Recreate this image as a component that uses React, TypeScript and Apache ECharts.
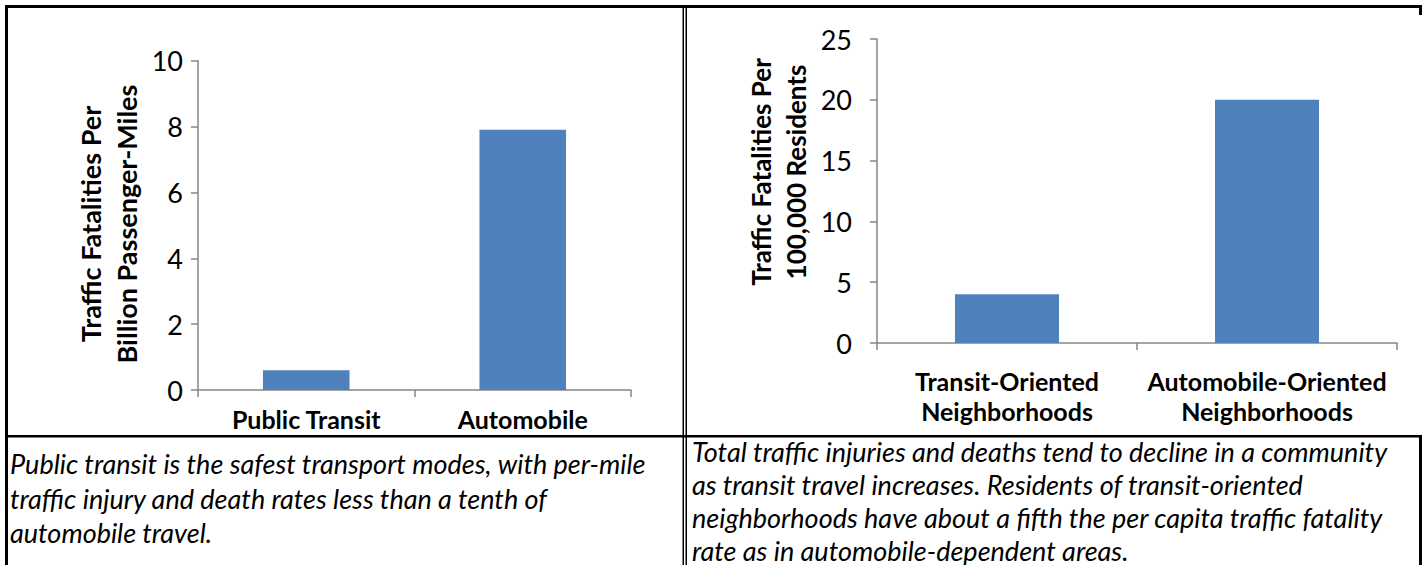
import React, { useEffect, useRef } from "react";
import * as echarts from "echarts";

const leftCategories = ["Public Transit", "Automobile"];
const leftValues = [0.6, 7.9];
const leftAxisTitle = ["Traffic Fatalities Per", "Billion Passenger-Miles"];
const leftYMax = 10;
const leftYInterval = 2;

const rightCategories = ["Transit-Oriented\nNeighborhoods", "Automobile-Oriented\nNeighborhoods"];
const rightValues = [4, 20];
const rightAxisTitle = ["Traffic Fatalities Per", "100,000 Residents"];
const rightYMax = 25;
const rightYInterval = 5;

const leftCaption = [
  "Public transit is the safest transport modes, with per-mile",
  "traffic injury and death rates less than a tenth of",
  "automobile travel.",
];
const rightCaption = [
  "Total traffic injuries and deaths tend to decline in a community",
  "as transit travel increases. Residents of transit-oriented",
  "neighborhoods have about a fifth the per capita traffic fatality",
  "rate as in automobile-dependent areas.",
];

const FONT = "Lato, 'Open Sans', sans-serif";
const AXIS_GRAY = "#868686";
const BAR_BLUE = "#4F81BD";

export default function App() {
  const ref = useRef<HTMLDivElement>(null);
  useEffect(() => {
    if (!ref.current) return;
    const chart = echarts.init(ref.current, undefined, { renderer: "svg" });

    const black = { fill: "#000" };
    const borders: any[] = [
      { type: "rect", shape: { x: 5, y: 5, width: 1417, height: 3 }, style: black },
      { type: "rect", shape: { x: 5, y: 5, width: 3, height: 560 }, style: black },
      { type: "rect", shape: { x: 1419, y: 5, width: 3, height: 10 }, style: black },
      { type: "rect", shape: { x: 5, y: 435, width: 1417, height: 2.5 }, style: black },
      { type: "rect", shape: { x: 682.5, y: 8, width: 1.5, height: 557 }, style: black },
      { type: "rect", shape: { x: 685.5, y: 8, width: 1.5, height: 557 }, style: black },
      { type: "rect", shape: { x: 1419, y: 435, width: 3, height: 130 }, style: black },
    ];

    const captionStyle = {
      fill: "#000",
      fontFamily: FONT,
      fontStyle: "italic",
      fontSize: 27,
    };
    const leftCaptionY = [463, 498, 532];
    const rightCaptionY = [451, 484, 517, 550];
    const captions: any[] = [
      ...leftCaption.map((t, i) => ({
        type: "text",
        x: 10,
        y: leftCaptionY[i],
        style: { ...captionStyle, text: t, textAlign: "left", textVerticalAlign: "middle" },
      })),
      ...rightCaption.map((t, i) => ({
        type: "text",
        x: 692,
        y: rightCaptionY[i],
        style: { ...captionStyle, text: t, textAlign: "left", textVerticalAlign: "middle" },
      })),
    ];

    const titleStyle = {
      fill: "#000",
      fontFamily: FONT,
      fontWeight: "bold",
      textAlign: "center",
      textVerticalAlign: "middle",
      lineHeight: 36,
    };
    const axisTitles: any[] = [
      {
        type: "text",
        x: 108,
        y: 224,
        rotation: Math.PI / 2,
        style: { ...titleStyle, fontSize: 27, text: leftAxisTitle.join("\n") },
      },
      {
        type: "text",
        x: 778,
        y: 172,
        rotation: Math.PI / 2,
        style: { ...titleStyle, fontSize: 26, lineHeight: 35, text: rightAxisTitle.join("\n") },
      },
    ];

    const axisLine = { show: true, lineStyle: { color: AXIS_GRAY, width: 1.5 } };
    const axisTick = { show: true, length: 7, lineStyle: { color: AXIS_GRAY, width: 1.5 } };

    chart.setOption({
      animation: false,
      grid: [
        { left: 198, top: 60.7, width: 433, height: 329.3 },
        { left: 877, top: 39, width: 520, height: 304 },
      ],
      xAxis: [
        {
          type: "category",
          gridIndex: 0,
          data: leftCategories,
          axisLine,
          axisTick,
          axisLabel: {
            color: "#000",
            fontFamily: FONT,
            fontWeight: "bold",
            fontSize: 25,
            margin: 15,
            lineHeight: 28,
          },
        },
        {
          type: "category",
          gridIndex: 1,
          data: rightCategories,
          axisLine,
          axisTick,
          axisLabel: {
            color: "#000",
            fontFamily: FONT,
            fontWeight: "bold",
            fontSize: 25,
            margin: 23,
            lineHeight: 30,
            interval: 0,
          },
        },
      ],
      yAxis: [
        {
          type: "value",
          gridIndex: 0,
          min: 0,
          max: leftYMax,
          interval: leftYInterval,
          axisLine,
          axisTick,
          splitLine: { show: false },
          axisLabel: { color: "#000", fontFamily: FONT, fontSize: 27, margin: 15 },
        },
        {
          type: "value",
          gridIndex: 1,
          min: 0,
          max: rightYMax,
          interval: rightYInterval,
          axisLine,
          axisTick,
          splitLine: { show: false },
          axisLabel: { color: "#000", fontFamily: FONT, fontSize: 27, margin: 25 },
        },
      ],
      series: [
        {
          type: "bar",
          xAxisIndex: 0,
          yAxisIndex: 0,
          data: leftValues,
          barWidth: "40%",
          itemStyle: { color: BAR_BLUE },
        },
        {
          type: "bar",
          xAxisIndex: 1,
          yAxisIndex: 1,
          data: rightValues,
          barWidth: "40%",
          itemStyle: { color: BAR_BLUE },
        },
      ],
      graphic: [...borders, ...captions, ...axisTitles],
    });

    return () => chart.dispose();
  }, []);

  return (
    <div
      ref={ref}
      style={{ position: "fixed", left: 0, top: 0, width: 1427, height: 565, background: "#fff" }}
    />
  );
}
